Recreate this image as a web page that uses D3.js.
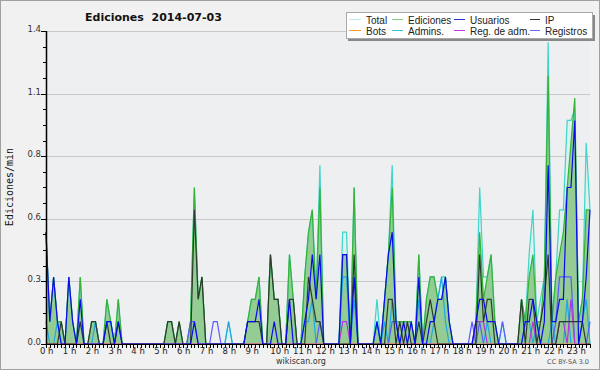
<!DOCTYPE html>
<html>
<head>
<meta charset="utf-8">
<script src="https://cdn.jsdelivr.net/npm/d3@7"></script>
<style>
  body { margin: 0; background: #f1f1f1; }
  svg { display: block; font-family: 'DejaVu Sans', sans-serif; }
</style>
</head>
<body>
<div id="viz"></div>
<script>
// one value per 10 minutes (144 slots), ediciones/min
const total = [
  .5,.1,.3,.1,.1,0,  .3,.1,0,.3,0,0,  .1,.1,0,0,.2,.1,  0,.2,0,0,0,0,
  0,0,0,0,0,0,  0,0,.1,.1,0,.1,  0,0,.1,.7,.2,.3,  0,0,0,0,0,0,
  .1,0,0,0,0,.1,  .2,.2,.3,0,0,.4,  .2,.2,0,0,.4,.2,  0,0,.3,.5,.6,.2,
  .8,0,0,0,0,0,  .5,.5,0,.7,0,0,  0,0,0,.2,0,.2,  .4,.8,.1,.1,.1,.1,
  .1,0,.4,0,.2,.3,  .3,.2,.3,.3,.1,0,  0,0,0,0,0,.1,  .7,.3,.3,.4,.1,0,
  .1,0,0,0,0,.2,  .1,.4,.6,.1,.2,.3,  1.35,.1,.3,.6,.6,1,  1,1.05,.1,.2,.9,.6
];
const ediciones = [
  .5,.1,.3,.1,.1,0,  .3,.1,0,.3,0,0,  .1,.1,0,0,.2,.1,  0,.2,0,0,0,0,
  0,0,0,0,0,0,  0,0,.1,.1,0,.1,  0,0,.1,.7,.2,.3,  0,0,0,0,0,0,
  0,0,0,0,0,.1,  .2,.2,.3,0,0,.4,  .2,.2,0,0,.4,.2,  0,0,.3,.5,.6,.2,
  .7,0,0,0,0,0,  .4,.4,0,.7,0,0,  0,0,0,.1,0,.2,  .4,.7,.1,.1,.1,.1,
  .1,0,.4,0,.2,.3,  .3,.2,.2,.3,.1,0,  0,0,0,0,0,.1,  .5,.2,.3,.4,.1,0,
  0,0,0,0,0,.2,  .1,.3,.4,.1,.1,.3,  1.2,.1,.3,.4,.5,.7,  .9,1.1,.1,.2,.6,.6
];
const usuarios = [
  .5,.1,.3,.1,0,0,  .3,.1,0,.2,0,0,  0,0,0,0,.1,.1,  0,.1,0,0,0,0,
  0,0,0,0,0,0,  0,0,0,0,0,0,  0,0,0,.1,0,0,  0,0,0,0,0,0,
  0,0,0,0,0,.1,  .1,.1,.2,0,0,0,  .1,0,0,0,.2,0,  0,0,.1,.2,.4,.2,
  .4,0,0,0,0,0,  .4,.4,0,.3,0,0,  0,0,0,.1,0,.2,  .4,.5,.1,0,.1,0,
  .1,0,.3,0,0,.1,  .1,.2,.2,.3,.1,0,  0,0,0,0,0,.1,  .2,.2,.1,.1,.1,0,
  0,0,0,0,0,0,  .1,.1,.2,.1,0,.1,  .8,.1,.1,.2,.2,.7,  .7,1,0,.1,.3,.6
];
const ip = [
  0,0,0,0,.1,0,  0,0,0,.1,0,0,  .1,.1,0,0,.1,0,  0,.1,0,0,0,0,
  0,0,0,0,0,0,  0,0,.1,.1,0,.1,  0,0,0,.6,.2,.3,  0,0,0,0,0,0,
  0,0,0,0,0,.1,  .1,.1,.1,0,0,.4,  .2,.2,0,0,.2,.2,  0,0,0,.3,.2,.1,
  .1,0,0,0,0,0,  0,0,0,.4,0,0,  0,0,0,0,0,0,  .2,.2,0,.1,0,.1,
  0,0,.1,0,.1,.2,  .1,0,0,0,0,0,  0,0,0,0,0,0,  .4,.1,.2,.2,0,0,
  0,0,0,0,0,.2,  0,.2,.2,0,.1,.2,  .4,0,0,.1,.1,.1,  .1,.1,.1,.1,0,0
];
const bots = [
  0,0,0,0,0,0,  0,0,0,0,0,0,  0,0,0,0,0,0,  0,0,0,0,0,0,
  0,0,0,0,0,0,  0,0,0,0,0,0,  0,0,0,0,0,0,  0,0,0,0,0,0,
  0,0,0,0,0,0,  0,0,0,0,0,0,  0,0,0,0,0,0,  0,0,0,0,0,0,
  0,0,0,0,0,0,  0,0,0,0,0,0,  0,0,0,0,0,0,  0,0,0,0,0,0,
  0,0,0,0,0,0,  0,0,0,0,0,0,  0,0,0,0,0,0,  0,0,0,0,0,0,
  0,0,0,0,0,0,  0,0,0,0,0,0,  0,0,0,0,0,0,  0,0,0,0,0,0
];
const admins = [
  .1,0,0,.1,0,0,  0,0,0,.1,0,0,  0,.1,0,0,.1,.1,  0,0,0,0,0,0,
  0,0,0,0,0,0,  0,0,0,0,0,0,  0,0,0,0,0,0,  0,0,0,0,0,0,
  .1,0,0,0,0,0,  0,0,0,0,0,0,  0,0,0,0,0,0,  0,0,.1,.1,.2,0,
  0,0,0,0,0,0,  .3,.3,0,.2,0,0,  0,0,0,.1,0,.1,  0,.2,.1,0,0,0,
  0,0,.2,0,0,0,  .1,.2,.3,.1,0,0,  0,0,0,0,0,0,  0,0,.1,0,0,0,
  0,0,0,0,0,0,  .1,.1,0,.1,0,0,  0,.1,0,0,0,.2,  0,0,0,.1,.2,0
];
const regAdm = [
  0,0,0,0,0,0,  0,0,0,0,0,0,  0,0,0,0,0,0,  0,0,0,0,0,0,
  0,0,0,0,0,0,  0,0,0,0,0,0,  0,0,0,0,0,0,  0,0,0,0,0,0,
  0,0,0,0,0,0,  0,0,0,0,0,0,  0,0,0,0,0,0,  0,0,0,0,0,0,
  0,0,0,0,0,0,  .1,.1,0,0,0,0,  0,0,0,0,0,0,  0,0,0,0,0,0,
  0,0,0,0,0,0,  0,0,0,0,0,0,  0,0,0,0,0,.1,  .1,.1,0,0,0,0,
  0,0,0,0,0,0,  0,0,.1,0,0,0,  0,0,0,.1,.1,0,  .2,0,0,0,0,0
];
const registros = [
  0,0,0,0,0,0,  0,0,0,0,0,0,  0,0,0,0,0,0,  0,0,0,0,0,0,
  0,0,0,0,0,0,  0,0,0,0,0,0,  0,0,.1,.1,0,0,  0,0,.1,.1,0,0,
  0,0,0,0,0,0,  0,0,0,0,0,0,  0,0,0,0,0,0,  0,0,0,0,0,0,
  .1,0,0,0,0,0,  0,0,0,0,0,0,  0,0,0,0,0,0,  0,.1,.1,0,0,0,
  0,0,0,0,0,0,  0,0,0,0,0,0,  0,0,0,0,.1,0,  .1,0,0,0,0,0,
  .1,0,0,0,0,0,  0,0,0,0,0,0,  0,0,.1,.3,.3,.3,  .3,0,0,0,0,.1
];

const hourLabels = ['0 h','1 h','2 h','3 h','4 h','5 h','6 h','7 h','8 h','9 h','10 h','11 h',
  '12 h','13 h','14 h','15 h','16 h','17 h','18 h','19 h','20 h','21 h','22 h','23 h'];
const yTicks = [0, 0.28, 0.56, 0.84, 1.12, 1.4];
const yTickLabels = ['0.0', '0.3', '0.6', '0.8', '1.1', '1.4'];

const legendItems = [
  { name: 'Total', color: '#b8ece6' }, { name: 'Ediciones', color: '#86cc86' },
  { name: 'Usuarios', color: '#3030d8' }, { name: 'IP', color: '#333' },
  { name: 'Bots', color: '#ff9a30' }, { name: 'Admins.', color: '#38c4d8' },
  { name: 'Reg. de adm.', color: '#c23ddc' }, { name: 'Registros', color: '#6a6af0' },
];

const width = 600, height = 370;
const plotLeft = 46, plotRight = 590, plotTop = 31, plotBottom = 344;

const svg = d3.select('#viz').append('svg')
  .attr('width', width)
  .attr('height', height);

svg.append('rect')
  .attr('x', 0.5).attr('y', 0.5)
  .attr('width', width - 1).attr('height', height - 1)
  .attr('fill', '#f1f1f1')
  .attr('stroke', '#a0a0a0');

svg.append('rect')
  .attr('x', plotLeft).attr('y', plotTop)
  .attr('width', plotRight - plotLeft).attr('height', plotBottom - plotTop)
  .attr('fill', '#edeff1');

const xScale = d3.scaleLinear().domain([0, total.length - 1]).range([plotLeft, plotRight]);
const yScale = d3.scaleLinear().domain([0, 1.4]).range([plotBottom, plotTop]);

// grid
svg.append('g')
  .selectAll('line')
  .data(yTicks.slice(1))
  .join('line')
  .attr('x1', plotLeft).attr('x2', plotRight)
  .attr('y1', d => Math.round(yScale(d)) + 0.5)
  .attr('y2', d => Math.round(yScale(d)) + 0.5)
  .attr('stroke', '#c9c9c9');

const area = d3.area()
  .x((d, i) => xScale(i))
  .y0(yScale(0))
  .y1(d => yScale(d));
const line = d3.line()
  .x((d, i) => xScale(i))
  .y(d => yScale(d));

svg.append('path').datum(total).attr('d', area).attr('fill', '#dcf2ef');
svg.append('path').datum(ediciones).attr('d', area).attr('fill', '#94cc94');

const lines = [
  { values: total, color: '#3ed4c8' },
  { values: ediciones, color: '#36b236' },
  { values: admins, color: '#1fa8e2' },
  { values: registros, color: '#5a5aff' },
  { values: regAdm, color: '#b832e0' },
  { values: bots, color: '#ff9a30' },
  { values: ip, color: '#2e3a2e' },
  { values: usuarios, color: '#0a0af0' },
];
svg.append('g')
  .selectAll('path')
  .data(lines)
  .join('path')
  .attr('d', d => line(d.values))
  .attr('fill', 'none')
  .attr('stroke', d => d.color)
  .attr('stroke-width', 1.2);

// x axis
const xAxis = svg.append('g');
xAxis.append('line')
  .attr('x1', plotLeft).attr('x2', plotRight)
  .attr('y1', plotBottom + 0.5).attr('y2', plotBottom + 0.5)
  .attr('stroke', '#000');
xAxis.selectAll('.tick')
  .data(d3.range(total.length))
  .join('line')
  .attr('x1', d => Math.round(xScale(d)) + 0.5)
  .attr('x2', d => Math.round(xScale(d)) + 0.5)
  .attr('y1', plotBottom)
  .attr('y2', plotBottom + 4)
  .attr('stroke', '#000');
xAxis.selectAll('text')
  .data(hourLabels)
  .join('text')
  .attr('x', (d, i) => xScale(i * 6) - (d.length > 3 ? 4 : 6))
  .attr('y', 354)
  .attr('font-size', 8.5)
  .attr('fill', '#222')
  .text(d => d);

// y axis
const yAxis = svg.append('g');
yAxis.append('line')
  .attr('x1', plotLeft + 0.5).attr('x2', plotLeft + 0.5)
  .attr('y1', plotTop).attr('y2', plotBottom + 1)
  .attr('stroke', '#000')
  .attr('stroke-width', 1.5);
yAxis.selectAll('.minor')
  .data(d3.range(0, 21))
  .join('line')
  .attr('x1', plotLeft - 3).attr('x2', plotLeft)
  .attr('y1', d => Math.round(yScale(d * 0.07)) + 0.5)
  .attr('y2', d => Math.round(yScale(d * 0.07)) + 0.5)
  .attr('stroke', '#000');
yAxis.selectAll('.major')
  .data(yTicks)
  .join('line')
  .attr('x1', plotLeft - 5).attr('x2', plotLeft)
  .attr('y1', d => Math.round(yScale(d)) + 0.5)
  .attr('y2', d => Math.round(yScale(d)) + 0.5)
  .attr('stroke', '#000');
yAxis.selectAll('text')
  .data(yTicks)
  .join('text')
  .attr('x', plotLeft - 5)
  .attr('y', d => yScale(d) + 1)
  .attr('text-anchor', 'end')
  .attr('font-size', 8.5)
  .attr('fill', '#333')
  .text((d, i) => yTickLabels[i]);

svg.append('text')
  .attr('transform', 'translate(13,187) rotate(-90)')
  .attr('text-anchor', 'middle')
  .attr('font-family', "'DejaVu Sans Mono', monospace")
  .attr('font-size', 10)
  .attr('fill', '#111')
  .text('Ediciones/min');

// title
svg.append('text')
  .attr('x', 85).attr('y', 21)
  .attr('font-size', 11)
  .attr('font-weight', 'bold')
  .attr('fill', '#111')
  .style('white-space', 'pre')
  .text('Ediciones  2014-07-03');

// legend
const legend = svg.append('g');
legend.append('rect')
  .attr('x', 348).attr('y', 15)
  .attr('width', 247).attr('height', 26)
  .attr('fill', '#888');
legend.append('rect')
  .attr('x', 346.5).attr('y', 12.5)
  .attr('width', 246).attr('height', 26)
  .attr('fill', '#fff')
  .attr('stroke', '#aaa');
const colX = [349, 392, 454, 530];
const colText = [366, 408, 470, 545];
legend.selectAll('g')
  .data(legendItems)
  .join('g')
  .each(function (d, i) {
    const col = i % 4, row = Math.floor(i / 4);
    const y = 19.5 + row * 11;
    const g = d3.select(this);
    g.append('line')
      .attr('x1', colX[col]).attr('x2', colText[col] - 5)
      .attr('y1', y).attr('y2', y)
      .attr('stroke', d.color);
    g.append('text')
      .attr('x', colText[col])
      .attr('y', y + 4)
      .attr('font-family', "'Liberation Sans', Arial, sans-serif")
      .attr('font-size', 10)
      .attr('fill', '#222')
      .text(d.name);
  });

// footer
svg.append('text')
  .attr('x', 301).attr('y', 364)
  .attr('text-anchor', 'middle')
  .attr('font-size', 8)
  .attr('fill', '#333')
  .text('wikiscan.org');
svg.append('text')
  .attr('x', 589).attr('y', 364)
  .attr('text-anchor', 'end')
  .attr('font-size', 6.5)
  .attr('fill', '#555')
  .text('CC BY-SA 3.0');
</script>
</body>
</html>
